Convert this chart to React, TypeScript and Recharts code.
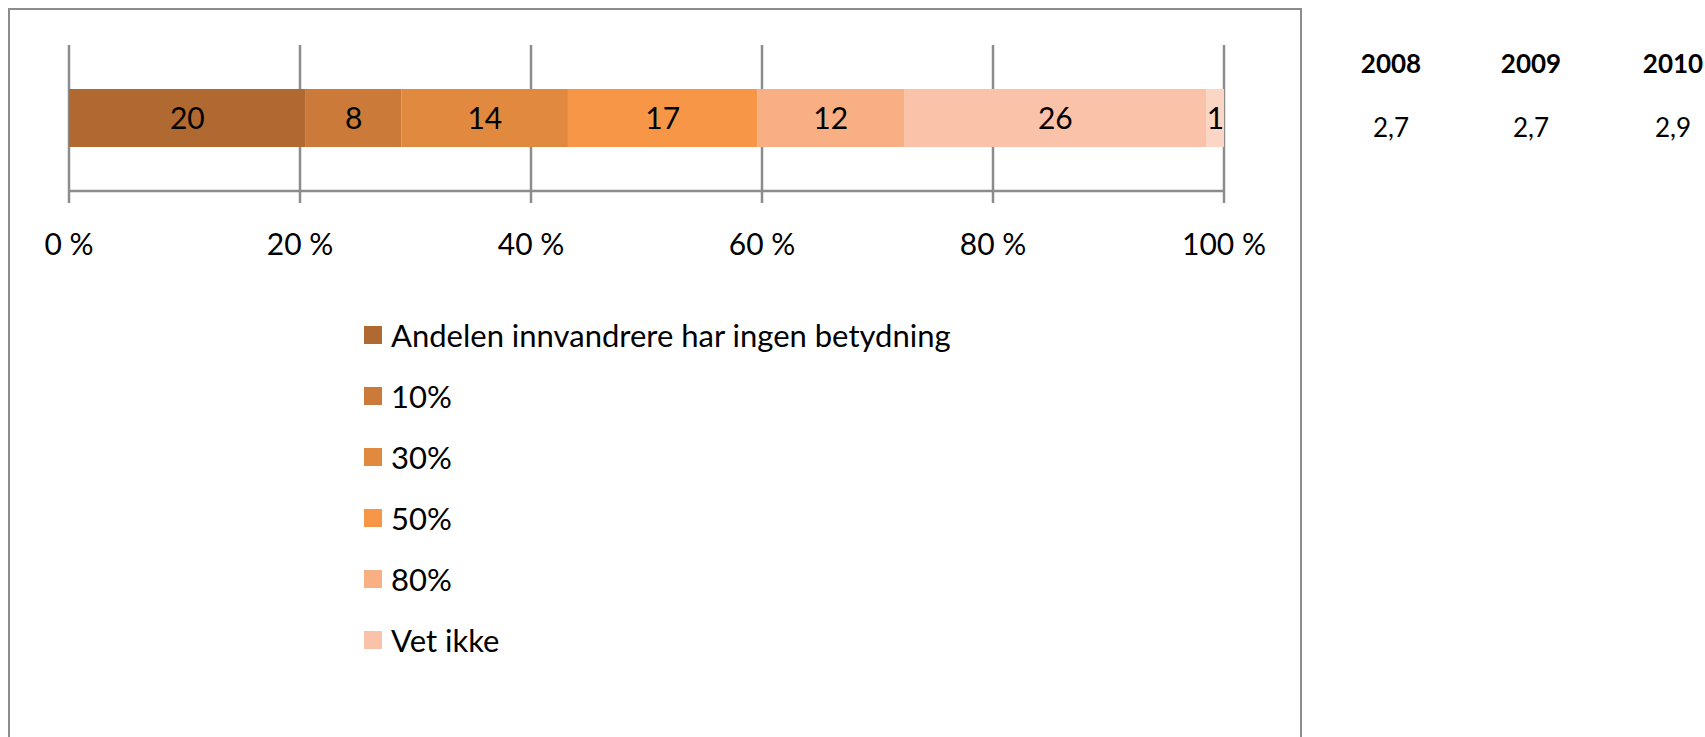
import React from 'react';
import { BarChart, Bar, XAxis, YAxis, CartesianGrid, Legend, LabelList } from 'recharts';

// share of the bar (percent of total) for each answer
const seriesNames = ['Andelen innvandrere har ingen betydning', '10%', '30%', '50%', '80%', 'Vet ikke', 'Ubesvart'];
const seriesShares = [20.5, 8.3, 14.4, 16.4, 12.7, 26.2, 1.5];
// numbers printed inside the segments
const seriesLabels = [20, 8, 14, 17, 12, 26, 1];
const xTicks = [0, 20, 40, 60, 80, 100];

// side table
const years = ['2008', '2009', '2010'];
const averages = ['2,7', '2,7', '2,9'];

const COLORS = ['#b06a31', '#cb7a3a', '#e1893f', '#f79646', '#f8af84', '#fac3a9', '#fbd6c4'];
const GRID = '#8c8c8c';
const FONT = 'Lato, "Open Sans", sans-serif';
const HIDDEN = 'Ubesvart'; // last thin segment has no legend entry

const row: Record<string, string | number> = { name: 'Andel' };
seriesShares.forEach((v, i) => {
  row[`s${i}`] = v;
  row[`l${i}`] = seriesLabels[i];
});
const data = [row];

const renderLegend = (props: any) => {
  const items = (props.payload || [])
    .filter((p: any) => p.value !== HIDDEN && p.type !== 'none')
    .sort((a: any, b: any) => seriesNames.indexOf(a.value) - seriesNames.indexOf(b.value));
  return (
    <ul style={{ listStyle: 'none', margin: 0, padding: 0 }}>
      {items.map((p: any) => (
        <li key={p.value} style={{ height: 61, display: 'flex', alignItems: 'center' }}>
          <span style={{ width: 18, height: 18, background: p.color, marginRight: 9, flex: 'none' }} />
          <span style={{ fontSize: 31, color: '#000', whiteSpace: 'nowrap' }}>{p.value}</span>
        </li>
      ))}
    </ul>
  );
};

const tableCols = [1391, 1531, 1673];

export default function App() {
  return (
    <div
      style={{
        position: 'absolute',
        left: 0,
        top: 0,
        width: 1705,
        height: 737,
        background: '#fff',
        overflow: 'hidden',
        fontFamily: FONT,
      }}
    >
      <div
        style={{
          position: 'absolute',
          left: 8,
          top: 8,
          width: 1294,
          height: 760,
          border: `2px solid ${GRID}`,
          boxSizing: 'border-box',
        }}
      />
      <div style={{ position: 'absolute', left: 0, top: 0 }}>
        <BarChart
          width={1305}
          height={737}
          data={data}
          layout="vertical"
          margin={{ top: 45, right: 81, bottom: 486, left: 69 }}
          style={{ fontFamily: FONT }}
        >
          <CartesianGrid horizontal={false} stroke={GRID} strokeWidth={2.5} />
          <XAxis
            type="number"
            domain={[0, 100]}
            ticks={xTicks}
            height={60}
            tickFormatter={(v: number) => `${v} %`}
            axisLine={{ stroke: GRID, strokeWidth: 2.5 }}
            tickLine={{ stroke: GRID, strokeWidth: 2.5 }}
            tickSize={12}
            tickMargin={31}
            tick={{ fontSize: 30, fill: '#000', fontFamily: FONT }}
            interval={0}
          />
          <YAxis type="category" dataKey="name" hide />
          <Legend
            layout="vertical"
            align="center"
            verticalAlign="middle"
            width={700}
            itemSorter={null as any}
            content={renderLegend}
            wrapperStyle={{ left: 364, top: 304, width: 700, fontFamily: FONT }}
          />
          {seriesNames.map((name, i) => (
            <Bar
              key={name}
              dataKey={`s${i}`}
              name={name}
              stackId="a"
              fill={COLORS[i]}
              barSize={58}
              isAnimationActive={false}
              legendType={name === HIDDEN ? 'none' : 'square'}
            >
              <LabelList dataKey={`l${i}`} position="center" fill="#000" fontSize={30} fontFamily={FONT} />
            </Bar>
          ))}
        </BarChart>
      </div>
      {years.map((y, i) => (
        <div
          key={y}
          style={{
            position: 'absolute',
            left: tableCols[i] - 50,
            width: 100,
            top: 63 - 18,
            height: 36,
            lineHeight: '36px',
            textAlign: 'center',
            fontWeight: 700,
            fontSize: 26,
          }}
        >
          {y}
        </div>
      ))}
      {averages.map((v, i) => (
        <div
          key={years[i]}
          style={{
            position: 'absolute',
            left: tableCols[i] - 50,
            width: 100,
            top: 127 - 18,
            height: 36,
            lineHeight: '36px',
            textAlign: 'center',
            fontSize: 26,
          }}
        >
          {v}
        </div>
      ))}
    </div>
  );
}
